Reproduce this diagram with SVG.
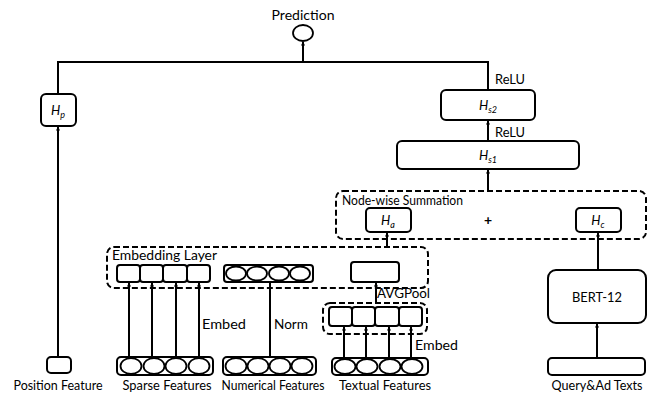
<svg xmlns="http://www.w3.org/2000/svg" width="652" height="394" viewBox="0 0 652 394">
<defs>
<marker id="ah" viewBox="0 0 10 10" refX="9" refY="5" markerWidth="4" markerHeight="5" orient="auto" markerUnits="userSpaceOnUse">
<path d="M0,0 L10,5 L0,10 z" fill="#000"/>
</marker>
<style>
.t{font-family:Lato,"Open Sans",sans-serif;font-size:14px;fill:#000}
.b{font-size:13px}
.h{font-family:Lato,"Open Sans",sans-serif;font-size:13px;font-style:italic;fill:#000}
.s{font-size:9px}
.box{fill:#fff;stroke:#000;stroke-width:2}
.dash{fill:none;stroke:#000;stroke-width:2;stroke-dasharray:6,3}
.c{fill:#fff;stroke:#000;stroke-width:1.8}
.ln{fill:none;stroke:#000;stroke-width:2}
.ar{fill:none;stroke:#000;stroke-width:2;marker-end:url(#ah)}
</style>
</defs>
<rect width="652" height="394" fill="#fff"/>

<g id="connectors">
<path class="ln" d="M58,94 V62 H488 V90"/>
<path class="ar" d="M303,62 V42"/>
<path class="ar" d="M58,357 V127"/>
<path class="ar" d="M488,141 V121"/>
<path class="ar" d="M488,191 V170"/>
<path class="ar" d="M387,247 V233"/>
<path class="ar" d="M598,270 V233"/>
<path class="ar" d="M597,358 V324"/>
<path class="ar" d="M376,303 V283"/>
<path class="ar" d="M129,357 V283"/>
<path class="ar" d="M152,357 V283"/>
<path class="ar" d="M176,357 V283"/>
<path class="ar" d="M199,357 V283"/>
<path class="ln" d="M270,357 V282"/>
<path class="ar" d="M344,358 V327"/>
<path class="ar" d="M366,358 V327"/>
<path class="ar" d="M389,358 V327"/>
<path class="ar" d="M411,358 V327"/>
</g>

<g id="prediction">
<text class="t" x="303" y="20" text-anchor="middle" textLength="63" lengthAdjust="spacingAndGlyphs">Prediction</text>
<ellipse class="c" cx="303" cy="33" rx="10" ry="8" stroke-width="2"/>
</g>

<g id="hp">
<rect class="box" x="41" y="94" width="35" height="32" rx="5"/>
<text class="h" x="58" y="115" text-anchor="middle">H<tspan class="s" dy="3">p</tspan></text>
</g>

<g id="hs2">
<rect class="box" x="441" y="90" width="94" height="30" rx="5"/>
<text class="h" x="488" y="110" text-anchor="middle">H<tspan class="s" dy="3">s2</tspan></text>
<text class="t" x="495" y="84" textLength="30" lengthAdjust="spacingAndGlyphs">ReLU</text>
</g>

<g id="hs1">
<rect class="box" x="397" y="141" width="182" height="28" rx="5"/>
<text class="h" x="488" y="160" text-anchor="middle">H<tspan class="s" dy="3">s1</tspan></text>
<text class="t" x="495" y="137" textLength="30" lengthAdjust="spacingAndGlyphs">ReLU</text>
</g>

<g id="nodewise">
<rect class="dash" x="336" y="191" width="310" height="48" rx="7"/>
<text class="t" x="342" y="205" textLength="121" lengthAdjust="spacingAndGlyphs">Node-wise Summation</text>
<rect class="box" x="366" y="208" width="45" height="24" rx="4"/>
<text class="h" x="388" y="225" text-anchor="middle">H<tspan class="s" dy="3">a</tspan></text>
<text class="t" x="488" y="225" text-anchor="middle" font-weight="bold">+</text>
<rect class="box" x="576" y="208" width="45" height="24" rx="4"/>
<text class="h" x="598" y="225" text-anchor="middle">H<tspan class="s" dy="3">c</tspan></text>
</g>

<g id="embedding">
<rect class="dash" x="107" y="247" width="321" height="41" rx="7"/>
<text class="t" x="112" y="260" textLength="105" lengthAdjust="spacingAndGlyphs">Embedding Layer</text>
<rect class="box" x="117" y="265" width="23" height="17" rx="3"/>
<rect class="box" x="140" y="265" width="23" height="17" rx="3"/>
<rect class="box" x="163" y="265" width="24" height="17" rx="3"/>
<rect class="box" x="187" y="265" width="23" height="17" rx="3"/>
<rect class="box" x="224" y="265" width="89" height="17" rx="3"/>
<ellipse class="c" cx="236" cy="273.5" rx="10" ry="7"/>
<ellipse class="c" cx="257" cy="273.5" rx="10" ry="7"/>
<ellipse class="c" cx="279" cy="273.5" rx="10" ry="7"/>
<ellipse class="c" cx="300" cy="273.5" rx="10" ry="7"/>
<rect class="box" x="351" y="262" width="48" height="20" rx="3"/>
</g>

<g id="avgpool">
<text class="t" x="377" y="298" textLength="53" lengthAdjust="spacingAndGlyphs">AVGPool</text>
</g>

<g id="text-embed">
<rect class="dash" x="323" y="303" width="104" height="31" rx="7"/>
<rect class="box" x="329" y="307" width="23" height="19" rx="3"/>
<rect class="box" x="352" y="307" width="23" height="19" rx="3"/>
<rect class="box" x="375" y="307" width="24" height="19" rx="3"/>
<rect class="box" x="399" y="307" width="23" height="19" rx="3"/>
</g>

<g id="labels">
<text class="t" x="202" y="329" textLength="44" lengthAdjust="spacingAndGlyphs">Embed</text>
<text class="t" x="274" y="329" textLength="34" lengthAdjust="spacingAndGlyphs">Norm</text>
<text class="t" x="415" y="350" textLength="43" lengthAdjust="spacingAndGlyphs">Embed</text>
</g>

<g id="position">
<rect class="box" x="47" y="357" width="24" height="16" rx="4"/>
<text class="t b" x="58" y="390" text-anchor="middle" textLength="89" lengthAdjust="spacingAndGlyphs">Position Feature</text>
</g>

<g id="sparse">
<rect class="box" x="117" y="357" width="96" height="18" rx="4"/>
<ellipse class="c" cx="131" cy="366" rx="10.5" ry="8"/>
<ellipse class="c" cx="154" cy="366" rx="10.5" ry="8"/>
<ellipse class="c" cx="176" cy="366" rx="10.5" ry="8"/>
<ellipse class="c" cx="199" cy="366" rx="10.5" ry="8"/>
<text class="t b" x="167" y="390" text-anchor="middle" textLength="89" lengthAdjust="spacingAndGlyphs">Sparse Features</text>
</g>

<g id="numerical">
<rect class="box" x="223" y="357" width="93" height="18" rx="4"/>
<ellipse class="c" cx="236" cy="366" rx="10.5" ry="8"/>
<ellipse class="c" cx="258" cy="366" rx="10.5" ry="8"/>
<ellipse class="c" cx="280" cy="366" rx="10.5" ry="8"/>
<ellipse class="c" cx="302" cy="366" rx="10.5" ry="8"/>
<text class="t b" x="273" y="390" text-anchor="middle" textLength="103" lengthAdjust="spacingAndGlyphs">Numerical Features</text>
</g>

<g id="textual">
<rect class="box" x="332" y="358" width="96" height="17" rx="4"/>
<ellipse class="c" cx="345" cy="366.5" rx="10.5" ry="7.5"/>
<ellipse class="c" cx="367" cy="366.5" rx="10.5" ry="7.5"/>
<ellipse class="c" cx="390" cy="366.5" rx="10.5" ry="7.5"/>
<ellipse class="c" cx="412" cy="366.5" rx="10.5" ry="7.5"/>
<text class="t b" x="385" y="390" text-anchor="middle" textLength="92" lengthAdjust="spacingAndGlyphs">Textual Features</text>
</g>

<g id="bert">
<rect class="box" x="548" y="270" width="98" height="53" rx="8"/>
<text class="t" x="597" y="302" text-anchor="middle" textLength="50" lengthAdjust="spacingAndGlyphs">BERT-12</text>
</g>

<g id="query">
<rect class="box" x="548" y="358" width="97" height="17" rx="4"/>
<text class="t b" x="597" y="390" text-anchor="middle" textLength="91" lengthAdjust="spacingAndGlyphs">Query&amp;Ad Texts</text>
</g>
</svg>
